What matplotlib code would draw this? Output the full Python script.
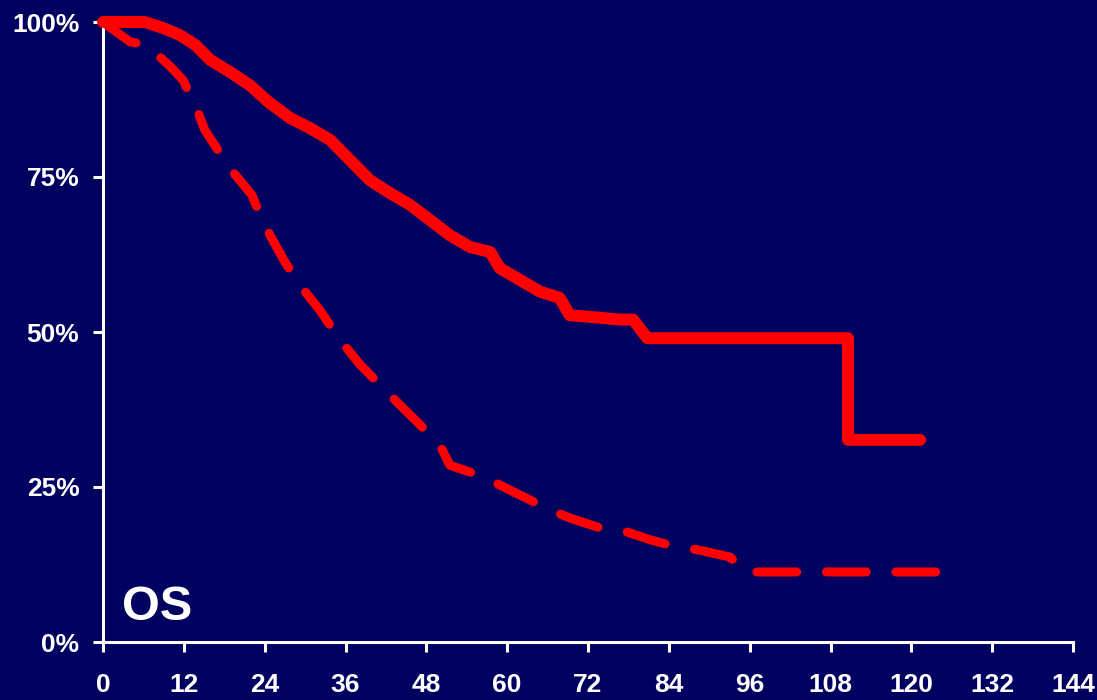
import matplotlib.pyplot as plt

# Overall survival, months vs. percent surviving
months_a = [0, 6.2, 9, 11.4, 13.7, 15.9, 18.9, 21.8, 24.8, 27.8, 30.7, 33.7, 36.7,
            39.6, 42.6, 45.6, 48.5, 51.5, 54.5, 57.5, 58.9, 61.9, 64.9, 67.8, 69.3,
            73.8, 76.8, 78.7, 80.8, 110.6, 110.6, 121.3]
surv_a = [100, 100, 99, 97.9, 96.3, 93.9, 91.9, 89.8, 86.9, 84.5, 82.9, 81, 77.7,
          74.5, 72.4, 70.5, 68.1, 65.6, 63.7, 62.9, 60.3, 58.4, 56.5, 55.5, 52.7,
          52.3, 52, 52, 49, 49, 32.6, 32.6]

months_b = [0, 4, 6.5, 10.2, 11.9, 14.1, 15.1, 17.8, 19.3, 22.1, 23.3, 24.8, 27,
            29.2, 32.2, 35.2, 38.2, 41.1, 44.1, 47.1, 50, 51.5, 54.5, 57.5, 60.4,
            63.4, 66.4, 69.3, 73.8, 76.8, 81.2, 84.2, 88.6, 93.1, 95.3, 123.8]
surv_b = [100, 96.8, 96.3, 92.6, 90.6, 85.5, 82.6, 78.1, 75.8, 72.1, 68.9, 65.6, 61.3,
          57.6, 53.5, 48.7, 44.7, 41.5, 38.2, 35, 31.8, 28.5, 27.4, 26.1, 24.5,
          22.9, 21.3, 20, 18.4, 18.1, 16.5, 15.6, 14.8, 13.7, 11.3, 11.3]

x_ticks = list(range(0, 145, 12))
y_ticks = [0, 25, 50, 75, 100]
y_labels = ["0%", "25%", "50%", "75%", "100%"]

bg = "#000060"
red = "#ff0000"

plt.rcParams["font.family"] = ["Liberation Sans", "DejaVu Sans"]

fig = plt.figure(figsize=(10.97, 7.0), dpi=100, facecolor=bg)
ax = fig.add_axes([103 / 1097, 1 - 642 / 700, 970 / 1097, 620 / 700], facecolor=bg)

ax.plot(months_a, surv_a, color=red, linewidth=8.6, solid_capstyle="round",
        solid_joinstyle="round", clip_on=False, zorder=3)
ax.plot(months_b, surv_b, color=red, linewidth=6.5, linestyle=(0, (4.4, 3.3)),
        dash_capstyle="round", dash_joinstyle="round", clip_on=False, zorder=3)

ax.set_xlim(0, 144)
ax.set_ylim(0, 100)
ax.set_xticks(x_ticks)
ax.set_yticks(y_ticks)
ax.set_yticklabels(y_labels)

for side in ["top", "right"]:
    ax.spines[side].set_visible(False)
for side in ["left", "bottom"]:
    ax.spines[side].set_color("white")
    ax.spines[side].set_linewidth(2.2)

ax.tick_params(axis="both", colors="white", length=7, width=2.2, labelsize=19)
ax.tick_params(axis="x", pad=15)
ax.tick_params(axis="y", pad=10)
for lbl in ax.get_xticklabels() + ax.get_yticklabels():
    lbl.set_fontweight("bold")

ax.text(2.8, 3.5, "OS", color="white", fontsize=35, fontweight="bold",
        ha="left", va="baseline")

fig.savefig("out.png", dpi=100, facecolor=bg)
